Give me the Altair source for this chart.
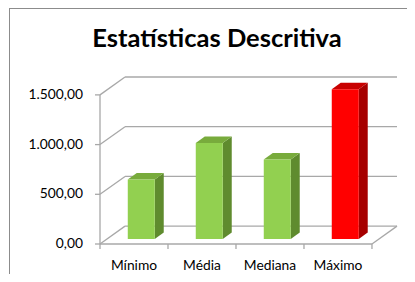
import altair as alt
import pandas as pd

# ---- data ----
categories = ["Mínimo", "Média", "Mediana", "Máximo"]
values = [600, 967, 800, 1507]
front_colors = ["#92D050", "#92D050", "#92D050", "#FF0000"]
side_colors = ["#5F8B2E", "#5F8B2E", "#5F8B2E", "#A60000"]
top_colors = ["#78AB3C", "#78AB3C", "#78AB3C", "#C80000"]
y_ticks = [0, 500, 1000, 1500]
y_tick_labels = ["0,00", "500,00", "1.000,00", "1.500,00"]
title_text = "Estatísticas Descritiva"

# ---- pseudo-3D geometry (style constants) ----
WALL_DX = 0.368   # wall depth, category units
WALL_DY = 180     # wall depth, value units
BAR_W = 0.397
BAR_SHIFT = 0.107
BAR_BASE = 50
BAR_DX = 0.132
BAR_DY = 65
Y_MAX = 1500
N = len(categories)

W, H = 297, 167
FONT = "Lato"
GRID = "#A8A8A8"

xs = alt.Scale(domain=[-0.5, N - 0.5 + WALL_DX], nice=False, zero=False)
ys = alt.Scale(domain=[0, Y_MAX + WALL_DY], nice=False, zero=False)

# frame / wall lines
segs = [dict(x=-0.5, y=0, x2=-0.5, y2=Y_MAX)]
for v in y_ticks:
    segs.append(dict(x=-0.5, y=v, x2=-0.5 + WALL_DX, y2=v + WALL_DY))
    segs.append(dict(x=-0.5 + WALL_DX, y=v + WALL_DY, x2=N - 0.5 + WALL_DX, y2=v + WALL_DY))
segs.append(dict(x=-0.5, y=0, x2=N - 0.5, y2=0))
segs.append(dict(x=N - 0.5, y=0, x2=N - 0.5 + WALL_DX, y2=WALL_DY))
seg_df = pd.DataFrame(segs)

frame = alt.Chart(seg_df).mark_rule(color=GRID, strokeWidth=1.3).encode(
    x=alt.X("x:Q", scale=xs, axis=None), y=alt.Y("y:Q", scale=ys, axis=None),
    x2="x2:Q", y2="y2:Q")

# y ticks + labels
yt_df = pd.DataFrame({"v": y_ticks, "lab": y_tick_labels})
y_tick_marks = alt.Chart(yt_df).mark_rule(color=GRID, strokeWidth=1.3).encode(
    x=alt.value(-5), x2=alt.value(0), y=alt.Y("v:Q", scale=ys, axis=None))
y_labels = alt.Chart(yt_df).mark_text(align="right", baseline="middle", font=FONT,
                                      fontSize=13.8, color="#000000").encode(
    x=alt.value(-17), y=alt.Y("v:Q", scale=ys, axis=None), text="lab:N")

# x ticks + labels
xt_df = pd.DataFrame({"b": [i - 0.5 for i in range(N + 1)]})
x_tick_marks = alt.Chart(xt_df).mark_rule(color=GRID, strokeWidth=1.3).encode(
    x=alt.X("b:Q", scale=xs, axis=None), y=alt.value(H), y2=alt.value(H + 5))
cat_df = pd.DataFrame({"i": list(range(N)), "cat": categories})
x_labels = alt.Chart(cat_df).mark_text(align="center", baseline="alphabetic", font=FONT,
                                       fontSize=13.8, color="#000000").encode(
    x=alt.X("i:Q", scale=xs, axis=None), y=alt.value(H + 26), text="cat:N")

# bars
rows, side_rows, top_rows = [], [], []
for i, (c, v) in enumerate(zip(categories, values)):
    xl = i + BAR_SHIFT - BAR_W / 2
    xr = xl + BAR_W
    rows.append(dict(cat=c, xl=xl, xr=xr, b=BAR_BASE, t=BAR_BASE + v, col=front_colors[i]))
    side_rows.append(dict(cat=c, x=xr, y=BAR_BASE + v, y2=BAR_BASE, col=side_colors[i]))
    side_rows.append(dict(cat=c, x=xr + BAR_DX, y=BAR_BASE + v + BAR_DY, y2=BAR_BASE + BAR_DY, col=side_colors[i]))
    top_rows.append(dict(cat=c, y=BAR_BASE + v, x=xl, x2=xr, col=top_colors[i]))
    top_rows.append(dict(cat=c, y=BAR_BASE + v + BAR_DY, x=xl + BAR_DX, x2=xr + BAR_DX, col=top_colors[i]))

front = alt.Chart(pd.DataFrame(rows)).mark_rect().encode(
    x=alt.X("xl:Q", scale=xs, axis=None), x2="xr:Q",
    y=alt.Y("b:Q", scale=ys, axis=None), y2="t:Q",
    color=alt.Color("col:N", scale=None))
side = alt.Chart(pd.DataFrame(side_rows)).mark_area(orient="vertical").encode(
    x=alt.X("x:Q", scale=xs, axis=None),
    y=alt.Y("y:Q", scale=ys, axis=None, stack=None), y2="y2:Q",
    detail="cat:N", color=alt.Color("col:N", scale=None))
top = alt.Chart(pd.DataFrame(top_rows)).mark_area(orient="horizontal").encode(
    y=alt.Y("y:Q", scale=ys, axis=None),
    x=alt.X("x:Q", scale=xs, axis=None, stack=None), x2="x2:Q",
    detail="cat:N", color=alt.Color("col:N", scale=None))

# title and outer border
t_df = pd.DataFrame({"t": [title_text]})
title = alt.Chart(t_df).mark_text(align="center", baseline="alphabetic", font=FONT,
                                  fontSize=25.5, fontWeight="bold", color="#000000").encode(
    x=alt.value(117), y=alt.value(-30), text="t:N")
border_top = alt.Chart(t_df).mark_rule(color="#8C8C8C", strokeWidth=1).encode(
    x=alt.value(-91), x2=alt.value(320), y=alt.value(-68.5))
border_left = alt.Chart(t_df).mark_rule(color="#8C8C8C", strokeWidth=1).encode(
    x=alt.value(-90.5), y=alt.value(-69), y2=alt.value(210))

chart = alt.layer(
    border_top, border_left, frame, y_tick_marks, x_tick_marks,
    side, top, front, y_labels, x_labels, title
).properties(
    width=W, height=H,
    padding={"left": 92, "top": 69, "right": 10, "bottom": 30},
    autosize=alt.AutoSizeParams(type="none"),
    background="white",
).configure_view(stroke=None)

chart.save("out.html", embed_options={"renderer": "svg", "actions": False})
